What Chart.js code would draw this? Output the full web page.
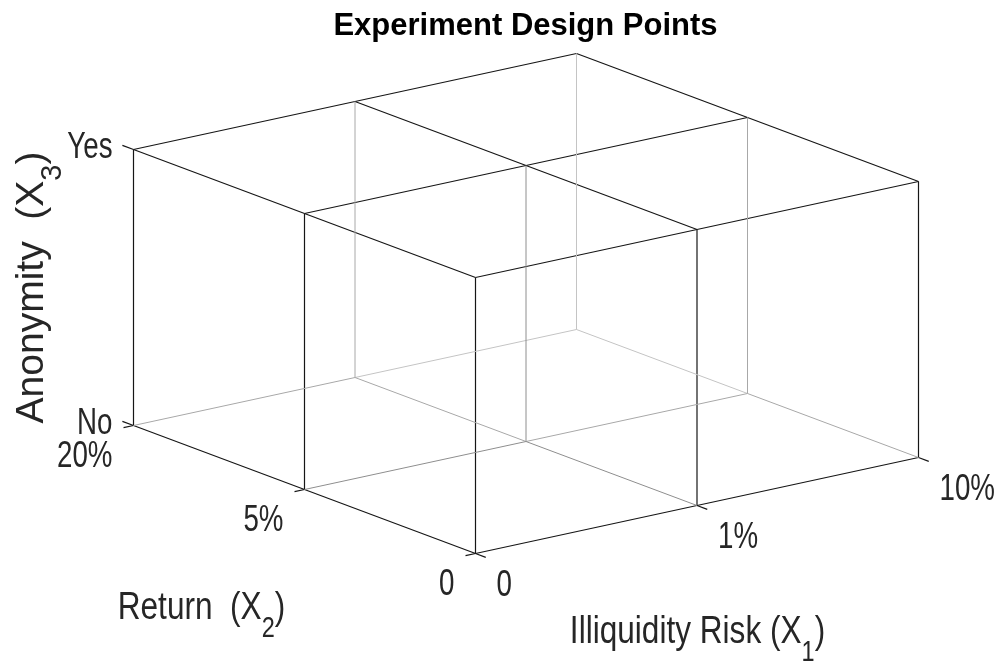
<!DOCTYPE html>
<html>
<head>
<meta charset="utf-8">
<script src="https://cdn.jsdelivr.net/npm/chart.js@4/dist/chart.umd.min.js"></script>
<style>
  html, body { margin: 0; padding: 0; background: #ffffff; }
  #wrap { width: 1000px; height: 666px; position: relative; }
</style>
</head>
<body>
<div id="wrap"><canvas id="chart"></canvas></div>
<script>
// Factor levels of the full-factorial experiment
const riskLevels = ['0', '1%', '10%'];     // Illiquidity Risk (X1)
const returnLevels = ['0', '5%', '20%'];   // Return (X2)
const anonymityLevels = ['No', 'Yes'];     // Anonymity (X3)

// Titles
const chartTitle = 'Experiment Design Points';
const riskTitle = ['Illiquidity Risk (X', '1', ')'];
const returnTitle = ['Return  (X', '2', ')'];
const anonymityTitle = ['Anonymity  (X', '3', ')'];

// Oblique view: screen position of the (0, 0, No) corner and the screen step per level of each factor
const VIEW = { ox: 475.5, oy: 553.5, e1: [221.5, -48], e2: [-171, -64], e3: [0, -276] };

const INK = '#161616';
const TEXT = '#262626';
const FONT = '"Liberation Sans", Arial, Helvetica, sans-serif';

function project(a, b, c) {
  return {
    x: VIEW.ox + a * VIEW.e1[0] + b * VIEW.e2[0] + c * VIEW.e3[0],
    y: VIEW.oy + a * VIEW.e1[1] + b * VIEW.e2[1] + c * VIEW.e3[1]
  };
}

const n1 = riskLevels.length, n2 = returnLevels.length, n3 = anonymityLevels.length;

// Lattice edges joining neighbouring design points
const edges = [];
for (let c = 0; c < n3; c++) {
  for (let b = 0; b < n2; b++) {
    for (let a = 0; a < n1; a++) {
      if (a + 1 < n1) edges.push([[a, b, c], [a + 1, b, c]]);
      if (b + 1 < n2) edges.push([[a, b, c], [a, b + 1, c]]);
      if (c + 1 < n3) edges.push([[a, b, c], [a, b, c + 1]]);
    }
  }
}

// Edges further back in the view are drawn lighter
function edgeColor(p, q) {
  if (p[2] === n3 - 1 && q[2] === n3 - 1) return INK;
  if ((p[0] === 0 && q[0] === 0) || (p[1] === 0 && q[1] === 0)) return INK;
  const depth = Math.max(p[0] + p[1], q[0] + q[1]);
  if (depth <= 2) return '#8e8e8e';
  if (depth === 3) return '#a8a8a8';
  return '#c4c4c4';
}

const segment = (p, q, color) => ({
  data: [project(...p), project(...q)],
  showLine: true,
  borderColor: color,
  borderWidth: color === INK ? 1.2 : 1,
  pointRadius: 0,
  pointHoverRadius: 0,
  fill: false,
  clip: false
});

const edgeSets = edges.map(([p, q]) => segment(p, q, edgeColor(p, q)));
edgeSets.sort((s1, s2) => (s1.borderColor === INK) - (s2.borderColor === INK));

// Tick marks along the three axes
const tickSets = [];
riskLevels.forEach((_, a) => tickSets.push(segment([a, 0, 0], [a, -0.06, 0], INK)));
returnLevels.forEach((_, b) => tickSets.push(segment([0, b, 0], [-0.045, b, 0], INK)));
anonymityLevels.forEach((_, c) => tickSets.push(segment([0, n2 - 1, c], [0, n2 - 1 + 0.065, c], INK)));

function drawText(ctx, parts, x, y, opt) {
  const [main, sub, tail] = Array.isArray(parts) ? parts : [parts, '', ''];
  const mainFont = (opt.weight || 'normal') + ' ' + opt.size + 'px ' + FONT;
  const subFont = (opt.weight || 'normal') + ' ' + Math.round(opt.size * 0.75) + 'px ' + FONT;
  ctx.save();
  ctx.font = mainFont;
  const w1 = ctx.measureText(main).width;
  const w3 = tail ? ctx.measureText(tail).width : 0;
  ctx.font = subFont;
  const w2 = sub ? ctx.measureText(sub).width : 0;
  const total = w1 + w2 + w3;
  let x0 = 0;
  if (opt.align === 'center') x0 = -total / 2;
  else if (opt.align === 'right') x0 = -total;
  ctx.translate(x, y);
  if (opt.rotate) ctx.rotate(opt.rotate);
  ctx.scale(opt.sx || 1, 1);
  ctx.fillStyle = opt.color || TEXT;
  ctx.textAlign = 'left';
  ctx.textBaseline = 'alphabetic';
  ctx.font = mainFont;
  ctx.fillText(main, x0, 0);
  if (sub) {
    ctx.font = subFont;
    ctx.fillText(sub, x0 + w1, opt.size * 0.46);
  }
  if (tail) {
    ctx.font = mainFont;
    ctx.fillText(tail, x0 + w1 + w2, 0);
  }
  ctx.restore();
}

const labelPlugin = {
  id: 'designLabels',
  afterDatasetsDraw(chart) {
    const { ctx, scales } = chart;
    const toPx = (p) => ({ x: scales.x.getPixelForValue(p.x), y: scales.y.getPixelForValue(p.y) });

    drawText(ctx, chartTitle, 525.5, 35, { size: 31, weight: 'bold', sx: 1.0, align: 'center', color: '#000000' });

    riskLevels.forEach((t, a) => {
      const p = toPx(project(a, 0, 0));
      drawText(ctx, t, p.x + 21, p.y + 42, { size: 36, sx: 0.77, align: 'left' });
    });
    returnLevels.forEach((t, b) => {
      const p = toPx(project(0, b, 0));
      drawText(ctx, t, p.x - 21, p.y + 41, { size: 36, sx: 0.77, align: 'right' });
    });
    anonymityLevels.forEach((t, c) => {
      const p = toPx(project(0, n2 - 1, c));
      drawText(ctx, t, p.x - 21, p.y + 8, { size: 36, sx: 0.77, align: 'right' });
    });

    drawText(ctx, riskTitle, 697.5, 643, { size: 39, sx: 0.81, align: 'center' });
    drawText(ctx, returnTitle, 201.5, 619, { size: 39, sx: 0.81, align: 'center' });
    drawText(ctx, anonymityTitle, 43, 287.5, { size: 39, sx: 1, align: 'center', rotate: -Math.PI / 2 });
  }
};

new Chart(document.getElementById('chart'), {
  type: 'scatter',
  data: { datasets: [...edgeSets, ...tickSets] },
  options: {
    responsive: true,
    maintainAspectRatio: false,
    animation: false,
    events: [],
    layout: { padding: 0 },
    plugins: {
      legend: { display: false },
      tooltip: { enabled: false },
      title: { display: false }
    },
    scales: {
      x: { type: 'linear', display: false, min: 0, max: 1000 },
      y: { type: 'linear', display: false, min: 0, max: 666, reverse: true }
    }
  },
  plugins: [labelPlugin]
});
</script>
</body>
</html>
